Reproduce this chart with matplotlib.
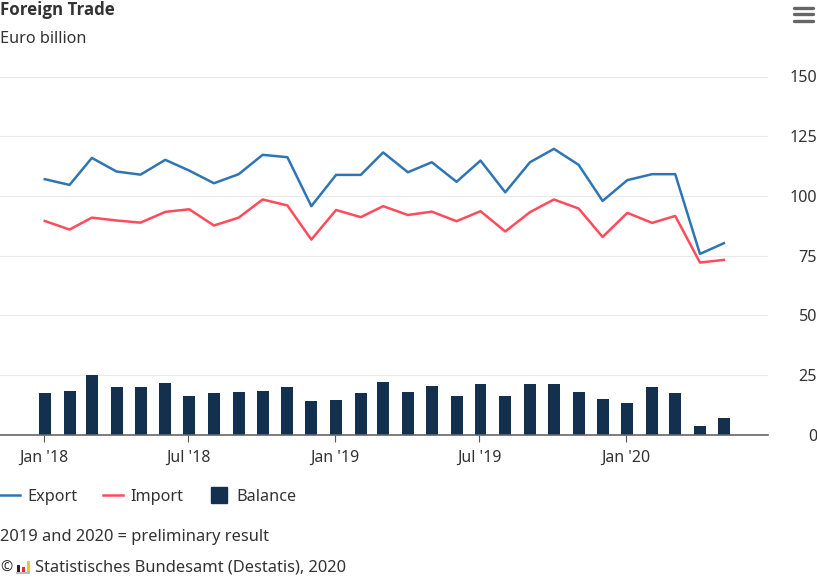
import matplotlib
matplotlib.use('Agg')
import matplotlib.dates as mdates
import matplotlib.pyplot as plt
import pandas as pd
from matplotlib.lines import Line2D
from matplotlib.patches import Rectangle

# values, Euro billion, monthly from Jan 2018
export = [107, 104.6, 115.9, 110.2, 108.9, 115.1, 110.6, 105.3, 109.1, 117.2,
          116.2, 95.7, 108.8, 108.8, 118.2, 109.9, 114.1, 105.9, 114.8, 101.5,
          114.1, 119.7, 113, 97.9, 106.6, 109.1, 109.1, 75.7, 80.2]
imports = [89.5, 85.9, 90.9, 89.7, 88.8, 93.3, 94.4, 87.6, 90.9, 98.5,
           96, 81.7, 94.1, 91.1, 95.7, 92, 93.4, 89.4, 93.6, 85.1,
           93.2, 98.5, 94.7, 82.8, 92.9, 88.7, 91.6, 72.1, 73.2]
balance = [17.3, 18.3, 24.9, 20, 20, 21.6, 16.2, 17.3, 17.9, 18.4,
           20, 14, 14.5, 17.3, 22.1, 17.7, 20.5, 16.2, 21.1, 16.2,
           21.1, 21.1, 17.7, 15.1, 13.4, 20, 17.3, 3.5, 6.8]
months = pd.date_range('2018-01-01', periods=len(export), freq='MS')

tick_dates = pd.to_datetime(['2018-01-01', '2018-07-01', '2019-01-01', '2019-07-01', '2020-01-01'])
tick_labels = ["Jan '18", "Jul '18", "Jan '19", "Jul '19", "Jan '20"]
y_ticks = [0, 25, 50, 75, 100, 125, 150]

W, H = 817, 586
TEXT = '#333333'
plt.rcParams['font.family'] = ['Noto Sans', 'DejaVu Sans']

fig = plt.figure(figsize=(W / 100, H / 100), dpi=100)
ax = fig.add_axes([0, 1 - 434.7 / H, 768 / W, (434.7 - 76.5) / H])

ax.bar(months, balance, width=15, color='#14304f', label='Balance', zorder=3)
ax.plot(months, export, color='#2e75b6', lw=1.8, label='Export', zorder=4)
ax.plot(months, imports, color='#ff4b5c', lw=1.8, label='Import', zorder=4)

# 0.798 px per day, Jan '18 sits at x=44.8 px
start = mdates.date2num(months[0])
ax.set_xlim(start - 44.8 / 0.798, start + (768 - 44.8) / 0.798)
ax.set_ylim(0, 150)

ax.set_xticks(tick_dates - pd.Timedelta(days=1.5))
ax.set_xticklabels(tick_labels)
ax.set_yticks(y_ticks)
ax.yaxis.tick_right()
ax.tick_params(axis='y', length=0, pad=35.2, labelsize=11.6, labelcolor=TEXT)
ax.tick_params(axis='x', length=5, width=0.8, color='#555555', pad=6, labelsize=11.5, labelcolor=TEXT)
for lab in ax.get_yticklabels():
    lab.set_ha('right')

ax.grid(axis='y', color='#e9e9e9', lw=0.8, zorder=0)
ax.set_axisbelow(True)
for side in ['top', 'left', 'right']:
    ax.spines[side].set_visible(False)
ax.spines['bottom'].set_color('#666666')
ax.spines['bottom'].set_linewidth(1.2)
ax.spines['bottom'].set_zorder(5)

fig.text(0, 1 - 15 / H, 'Foreign Trade', fontsize=12.2, fontweight='bold', family=['Open Sans', 'DejaVu Sans'],
         color=TEXT, va='baseline')
fig.text(0, 1 - 43 / H, 'Euro billion', fontsize=11.7, color=TEXT, va='baseline')
fig.text(0, 1 - 541 / H, '2019 and 2020 = preliminary result', fontsize=11.85, color=TEXT, va='baseline')
fig.text(0, 1 - 572 / H, '©', fontsize=10.5, color=TEXT, va='baseline')
fig.text(35 / W, 1 - 572 / H, 'Statistisches Bundesamt (Destatis), 2020', fontsize=11.85, color=TEXT, va='baseline')

# legend
handles = [Line2D([], [], color='#2e75b6', lw=1.8),
           Line2D([], [], color='#ff4b5c', lw=1.8),
           Line2D([], [], color='#14304f', ls='none', marker='s', markersize=12)]
fig.legend(handles, ['Export', 'Import', 'Balance'], loc='center left',
           bbox_to_anchor=(0, 1 - 497 / H), ncol=3, frameon=False, fontsize=11.7,
           labelcolor=TEXT, borderpad=0, borderaxespad=0, handlelength=1.23,
           handletextpad=0.43, columnspacing=1.6)

# menu icon
for y in [8, 14.3, 21.3]:
    fig.add_artist(Line2D([793.5 / W, 812.5 / W], [1 - y / H, 1 - y / H], color='#666666',
                          lw=2.4, solid_capstyle='round'))

# little Destatis logo
for x, top, col in [(17, 565, '#222222'), (22, 567, '#d8333a'), (27, 561, '#f2c230')]:
    fig.add_artist(Rectangle((x / W, 1 - 572 / H), 3 / W, (572 - top) / H,
                             transform=fig.transFigure, color=col, lw=0))
fig.add_artist(Rectangle((16 / W, 1 - 574 / H), 14 / W, 2 / H,
                         transform=fig.transFigure, color='#bbbbbb', lw=0))

fig.savefig('out.png', dpi=100)
